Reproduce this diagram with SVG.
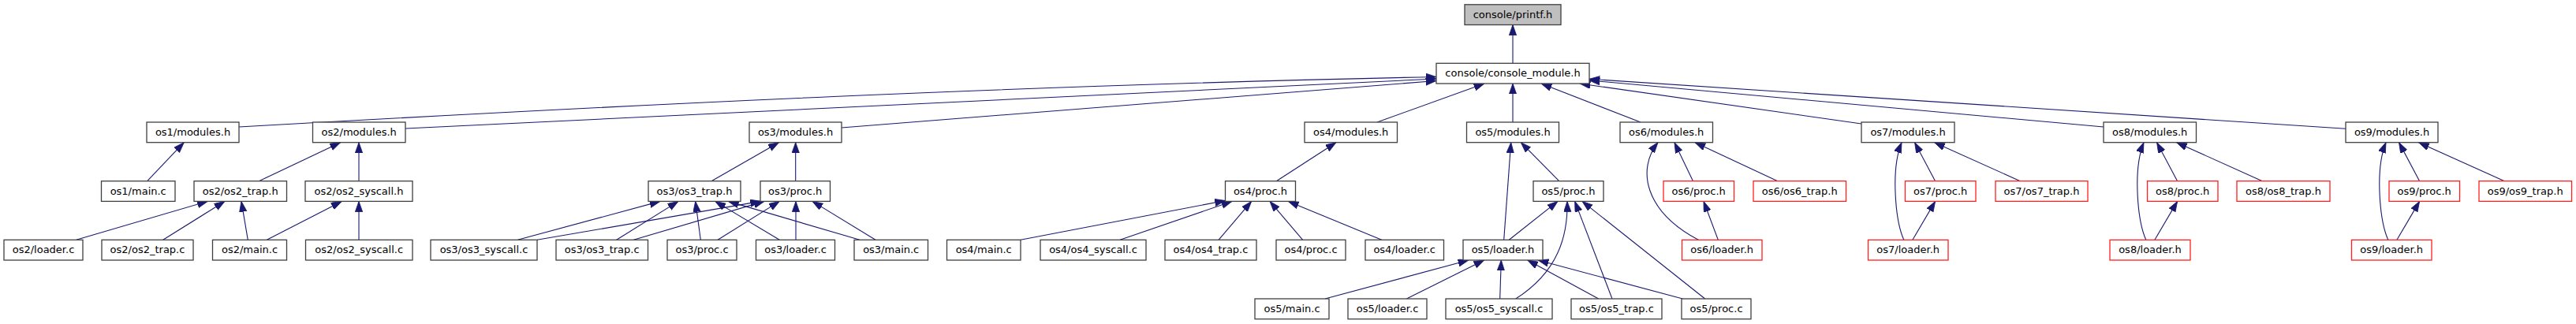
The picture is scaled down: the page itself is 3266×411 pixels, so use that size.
<svg xmlns="http://www.w3.org/2000/svg" width="3266" height="411" viewBox="0 0 3266 411">
<defs>
<marker id="ah" markerUnits="userSpaceOnUse" markerWidth="15" markerHeight="11" refX="13.3" refY="4.67" orient="auto">
<path d="M0,0 L13.3,4.67 L0,9.33 Z" fill="#191970" stroke="#191970" stroke-width="0.8"/>
</marker>
<style>
rect{fill:#ffffff;stroke:#404040;stroke-width:1.3}
.root rect{fill:#bfbfbf}
.red rect{stroke:#ff2020}
text{font-family:"DejaVu Sans","Liberation Sans",sans-serif;font-size:13px;fill:#000000;text-anchor:middle}
#edges path{fill:none;stroke:#191970;stroke-width:1.1;marker-end:url(#ah)}
</style>
</defs>
<rect x="0" y="0" width="3266" height="411" style="fill:#ffffff;stroke:none"/>
<g id="edges">
<path d="M1918,80.3 L1918,31.5"/>
<path d="M303,161 C803,132.5 1307,108 1821,97.5"/>
<path d="M514,163 L1821,100"/>
<path d="M1067,162 L1821,102.5"/>
<path d="M1746,155 L1882,106"/>
<path d="M1918,155 L1918,106"/>
<path d="M2080,155 L1954,106"/>
<path d="M2361.7,157.3 L2003,106"/>
<path d="M2667,161 L2015,102"/>
<path d="M2974,163.3 L2015,100.3"/>
<path d="M186.7,229.7 L233.3,180.7"/>
<path d="M328.3,229.7 L431.7,180.7"/>
<path d="M455,229.7 L455,180.7"/>
<path d="M902,229.7 L987.5,180.7"/>
<path d="M1008.7,229.7 L1008.7,180.7"/>
<path d="M1618.3,229.7 L1694,180.7"/>
<path d="M1906.7,304.3 L1915.7,180.7"/>
<path d="M1976.7,229.7 L1928.3,180.7"/>
<path d="M2153.3,304.3 C2085,268 2075,215 2102,180.7"/>
<path d="M2146.5,229.7 L2123,180.7"/>
<path d="M2253.8,229.7 L2149,180.7"/>
<path d="M2178.3,304.3 L2160,255.4"/>
<path d="M2413.8,304.3 C2403,280 2397,215 2411,180.7"/>
<path d="M2453.6,229.7 L2427.6,180.7"/>
<path d="M2561.3,229.7 L2452.5,180.7"/>
<path d="M2424.9,304.3 L2453.6,255.4"/>
<path d="M2720.8,304.3 C2710,280 2704,215 2718,180.7"/>
<path d="M2760.6,229.7 L2734.6,180.7"/>
<path d="M2868.3,229.7 L2759.5,180.7"/>
<path d="M2731.9,304.3 L2760.6,255.4"/>
<path d="M3027.8,304.3 C3017,280 3011,215 3025,180.7"/>
<path d="M3067.6,229.7 L3041.6,180.7"/>
<path d="M3175.3,229.7 L3066.5,180.7"/>
<path d="M3038.9,304.3 L3067.6,255.4"/>
<path d="M96.7,304.3 L263.3,255.4"/>
<path d="M206.7,304.3 L285,255.4"/>
<path d="M314.3,304.3 L306,255.4"/>
<path d="M338.3,304.3 L433.3,255.4"/>
<path d="M455,304.3 L455,255.4"/>
<path d="M656.4,304.3 L837,255.4"/>
<path d="M681,304.3 L964.5,255.4"/>
<path d="M781.7,304.3 L860,255.4"/>
<path d="M803.3,304.3 L969,255.4"/>
<path d="M888.3,304.3 L881.7,255.4"/>
<path d="M910,304.3 L988.3,255.4"/>
<path d="M988.3,304.3 L906.7,255.4"/>
<path d="M1009,304.3 L1009,255.4"/>
<path d="M1090,304.3 L923.3,255.4"/>
<path d="M1110,304.3 L1030,255.4"/>
<path d="M1294,304.3 L1553.5,254.5"/>
<path d="M1420,304.3 L1562,255.4"/>
<path d="M1545,304.3 L1586.7,255.4"/>
<path d="M1651.7,304.3 L1610,255.4"/>
<path d="M1751.7,304.3 L1633.3,255.4"/>
<path d="M1913.3,304.3 L1975,255.4"/>
<path d="M1921.7,379 C1975,345 1988,300 1987,255.4"/>
<path d="M2044,379 L1996.7,255.4"/>
<path d="M2161.7,379 L2006,255.4"/>
<path d="M1680,379 L1862,330"/>
<path d="M1783.3,379 L1881.7,330"/>
<path d="M1901.7,379 L1903.3,330"/>
<path d="M2026.7,379 L1936.7,330"/>
<path d="M2133.3,379 L1950,330"/>
</g>
<g id="n_printf" class="root"><rect x="1857" y="5.8" width="122" height="25.7"/><text x="1918" y="22.8">console/printf.h</text></g>
<g id="n_console_module"><rect x="1821" y="80.3" width="194" height="25.7"/><text x="1918" y="97.3">console/console_module.h</text></g>
<g id="n_os1_modules"><rect x="186" y="155" width="117" height="25.7"/><text x="244.5" y="172">os1/modules.h</text></g>
<g id="n_os2_modules"><rect x="396.5" y="155" width="117.5" height="25.7"/><text x="455.2" y="172">os2/modules.h</text></g>
<g id="n_os3_modules"><rect x="950" y="155" width="117" height="25.7"/><text x="1008.5" y="172">os3/modules.h</text></g>
<g id="n_os4_modules"><rect x="1654" y="155" width="117.5" height="25.7"/><text x="1712.7" y="172">os4/modules.h</text></g>
<g id="n_os5_modules"><rect x="1859.5" y="155" width="117" height="25.7"/><text x="1918" y="172">os5/modules.h</text></g>
<g id="n_os6_modules"><rect x="2054" y="155" width="117.5" height="25.7"/><text x="2112.7" y="172">os6/modules.h</text></g>
<g id="n_os7_modules"><rect x="2360" y="155" width="118" height="25.7"/><text x="2419" y="172">os7/modules.h</text></g>
<g id="n_os8_modules"><rect x="2667" y="155" width="117.5" height="25.7"/><text x="2725.7" y="172">os8/modules.h</text></g>
<g id="n_os9_modules"><rect x="2974" y="155" width="117" height="25.7"/><text x="3032.5" y="172">os9/modules.h</text></g>
<g id="n_os1_main_c"><rect x="128.5" y="229.7" width="93.5" height="25.7"/><text x="175.2" y="246.7">os1/main.c</text></g>
<g id="n_os2_os2_trap_h"><rect x="246" y="229.7" width="117.5" height="25.7"/><text x="304.7" y="246.7">os2/os2_trap.h</text></g>
<g id="n_os2_os2_syscall_h"><rect x="387" y="229.7" width="136" height="25.7"/><text x="455" y="246.7">os2/os2_syscall.h</text></g>
<g id="n_os3_os3_trap_h"><rect x="822" y="229.7" width="117" height="25.7"/><text x="880.5" y="246.7">os3/os3_trap.h</text></g>
<g id="n_os3_proc_h"><rect x="964" y="229.7" width="88.5" height="25.7"/><text x="1008.2" y="246.7">os3/proc.h</text></g>
<g id="n_os4_proc_h"><rect x="1553.5" y="229.7" width="89" height="25.7"/><text x="1598" y="246.7">os4/proc.h</text></g>
<g id="n_os5_proc_h"><rect x="1944" y="229.7" width="89" height="25.7"/><text x="1988.5" y="246.7">os5/proc.h</text></g>
<g id="n_os6_proc_h" class="red"><rect x="2109" y="229.7" width="89.5" height="25.7"/><text x="2153.7" y="246.7">os6/proc.h</text></g>
<g id="n_os6_os6_trap_h" class="red"><rect x="2223" y="229.7" width="117.5" height="25.7"/><text x="2281.7" y="246.7">os6/os6_trap.h</text></g>
<g id="n_os7_proc_h" class="red"><rect x="2415.5" y="229.7" width="89.5" height="25.7"/><text x="2460.2" y="246.7">os7/proc.h</text></g>
<g id="n_os7_os7_trap_h" class="red"><rect x="2530" y="229.7" width="117" height="25.7"/><text x="2588.5" y="246.7">os7/os7_trap.h</text></g>
<g id="n_os8_proc_h" class="red"><rect x="2722.5" y="229.7" width="89.5" height="25.7"/><text x="2767.2" y="246.7">os8/proc.h</text></g>
<g id="n_os8_os8_trap_h" class="red"><rect x="2836" y="229.7" width="118" height="25.7"/><text x="2895" y="246.7">os8/os8_trap.h</text></g>
<g id="n_os9_proc_h" class="red"><rect x="3029" y="229.7" width="89.5" height="25.7"/><text x="3073.7" y="246.7">os9/proc.h</text></g>
<g id="n_os9_os9_trap_h" class="red"><rect x="3143" y="229.7" width="117.5" height="25.7"/><text x="3201.7" y="246.7">os9/os9_trap.h</text></g>
<g id="n_os2_loader_c"><rect x="5" y="304.3" width="100" height="25.7"/><text x="55" y="321.3">os2/loader.c</text></g>
<g id="n_os2_os2_trap_c"><rect x="129" y="304.3" width="116" height="25.7"/><text x="187" y="321.3">os2/os2_trap.c</text></g>
<g id="n_os2_main_c"><rect x="269.5" y="304.3" width="94" height="25.7"/><text x="316.5" y="321.3">os2/main.c</text></g>
<g id="n_os2_os2_syscall_c"><rect x="387.5" y="304.3" width="135.5" height="25.7"/><text x="455.2" y="321.3">os2/os2_syscall.c</text></g>
<g id="n_os3_os3_syscall_c"><rect x="546" y="304.3" width="135" height="25.7"/><text x="613.5" y="321.3">os3/os3_syscall.c</text></g>
<g id="n_os3_os3_trap_c"><rect x="705" y="304.3" width="116.5" height="25.7"/><text x="763.2" y="321.3">os3/os3_trap.c</text></g>
<g id="n_os3_proc_c"><rect x="846" y="304.3" width="88" height="25.7"/><text x="890" y="321.3">os3/proc.c</text></g>
<g id="n_os3_loader_c"><rect x="958.5" y="304.3" width="100" height="25.7"/><text x="1008.5" y="321.3">os3/loader.c</text></g>
<g id="n_os3_main_c"><rect x="1083" y="304.3" width="93.5" height="25.7"/><text x="1129.7" y="321.3">os3/main.c</text></g>
<g id="n_os4_main_c"><rect x="1200.5" y="304.3" width="93.5" height="25.7"/><text x="1247.2" y="321.3">os4/main.c</text></g>
<g id="n_os4_os4_syscall_c"><rect x="1319" y="304.3" width="134" height="25.7"/><text x="1386" y="321.3">os4/os4_syscall.c</text></g>
<g id="n_os4_os4_trap_c"><rect x="1477" y="304.3" width="116" height="25.7"/><text x="1535" y="321.3">os4/os4_trap.c</text></g>
<g id="n_os4_proc_c"><rect x="1618" y="304.3" width="88" height="25.7"/><text x="1662" y="321.3">os4/proc.c</text></g>
<g id="n_os4_loader_c"><rect x="1731" y="304.3" width="99.5" height="25.7"/><text x="1780.7" y="321.3">os4/loader.c</text></g>
<g id="n_os5_loader_h"><rect x="1855" y="304.3" width="101" height="25.7"/><text x="1905.5" y="321.3">os5/loader.h</text></g>
<g id="n_os6_loader_h" class="red"><rect x="2132.5" y="304.3" width="101.5" height="25.7"/><text x="2183.2" y="321.3">os6/loader.h</text></g>
<g id="n_os7_loader_h" class="red"><rect x="2368.5" y="304.3" width="101.5" height="25.7"/><text x="2419.2" y="321.3">os7/loader.h</text></g>
<g id="n_os8_loader_h" class="red"><rect x="2675" y="304.3" width="102" height="25.7"/><text x="2726" y="321.3">os8/loader.h</text></g>
<g id="n_os9_loader_h" class="red"><rect x="2981.5" y="304.3" width="101.5" height="25.7"/><text x="3032.2" y="321.3">os9/loader.h</text></g>
<g id="n_os5_main_c"><rect x="1591" y="379" width="94" height="25.7"/><text x="1638" y="396">os5/main.c</text></g>
<g id="n_os5_loader_c"><rect x="1709" y="379" width="100" height="25.7"/><text x="1759" y="396">os5/loader.c</text></g>
<g id="n_os5_os5_syscall_c"><rect x="1833" y="379" width="135" height="25.7"/><text x="1900.5" y="396">os5/os5_syscall.c</text></g>
<g id="n_os5_os5_trap_c"><rect x="1992" y="379" width="115" height="25.7"/><text x="2049.5" y="396">os5/os5_trap.c</text></g>
<g id="n_os5_proc_c"><rect x="2132" y="379" width="88" height="25.7"/><text x="2176" y="396">os5/proc.c</text></g>
</svg>
